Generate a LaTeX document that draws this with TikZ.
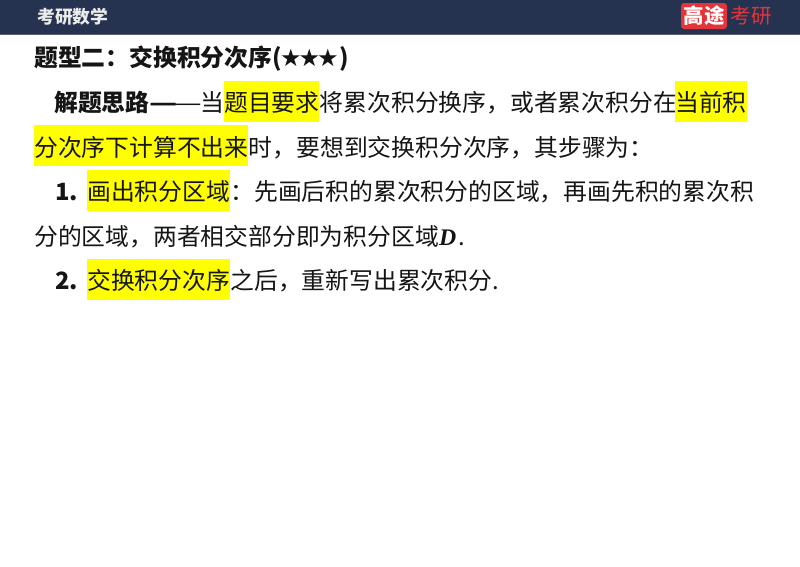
\documentclass[tikz,border=0pt]{standalone}
\usepackage{fontspec}
\setmainfont{Noto Sans CJK SC}
\newfontfamily\varfont{Liberation Serif}
\newfontfamily\starfont{DejaVu Sans}
\definecolor{headblue}{HTML}{253350}
\definecolor{logored}{HTML}{E5333A}
\definecolor{markyellow}{HTML}{FFFF00}
\definecolor{inkgray}{HTML}{151515}
\begin{document}
\begin{tikzpicture}[x=1pt,y=-1pt]
\tikzstyle{txt}= [anchor=west,inner sep=0pt,text=inkgray,text height=31pt,text depth=10pt,font=\fontsize{23.8}{28}\selectfont]
\tikzstyle{hl}= [txt,fill=markyellow]
\tikzstyle{bld}= [txt,font=\fontsize{23.8}{28}\selectfont\bfseries]
\tikzstyle{logo}= [inner sep=0pt,font=\fontsize{20.5}{24}\selectfont]

\useasboundingbox (0,0) rectangle (800,566);
\fill[white] (0,0) rectangle (800,566);
\fill[headblue] (0,0) rectangle (800,34);
\fill[gray!60!headblue] (0,34) rectangle (800,35);

\path
	( 37,17) node[anchor=west,inner sep=0pt,text=white!92!black,font=\fontsize{17.8}{20}\selectfont\bfseries] (brand) {考研数学}
	(704,16) node[logo,fill=logored,rounded corners=3pt,text=white,minimum width=46pt,minimum height=26pt,font=\fontsize{20.5}{24}\selectfont\bfseries] (logobox) {高途}
	(751,16) node[logo,text=logored] (logotext) {考研}
;
\path
	( 34, 56) node[bld] (title) {题型二：交换积分次序(}
	(280, 56) node[txt,font=\fontsize{24}{28}\selectfont\starfont] (stars) {★\kern-3pt★\kern-3pt★}
	(339, 56) node[bld] (titleb) {)}
;
% line by line, each run starts where the last one stops
\path
	( 54,101) node[bld] (idea) {解题思路}
	(idea.east) node[bld,xscale=1.3] (dasha) {—}
	(174,101) node[txt,xscale=1.3] (dashb) {—}
	(200,101) node[txt] (ideb) {当}
	(224,101) node[hl] (ask) {题目要求}
	(ask.east) node[txt] (idc) {将累次积分换序，或者累次积分在}
	(675,101) node[hl] (cura) {当前积}
	( 34,145.5) node[hl] (curb) {分次序下计算不出来}
	(curb.east) node[txt] (idd) {时，要想到交换积分次序，其步骤为：}
;
\path
	( 55,190) node[bld] (numa) {1.}
	( 87,190) node[hl] (draw) {画出积分区域}
	(draw.east) node[txt] (stepa) {：先画后积的累次积分的区域，再画先积的累次积}
	( 34,234.5) node[txt] (stepb) {分的区域，两者相交部分即为积分区域}
	(stepb.east) node[txt,font=\fontsize{23.8}{28}\selectfont\varfont\bfseries\itshape] (dom) {D}
	(dom.east) node[txt] (dot) {\kern2pt.}
;
\path
	( 55,279) node[bld] (numb) {2.}
	( 87,279) node[hl] (swap) {交换积分次序}
	(swap.east) node[txt] (stepc) {之后，重新写出累次积分.}
;
\end{tikzpicture}
\end{document}
